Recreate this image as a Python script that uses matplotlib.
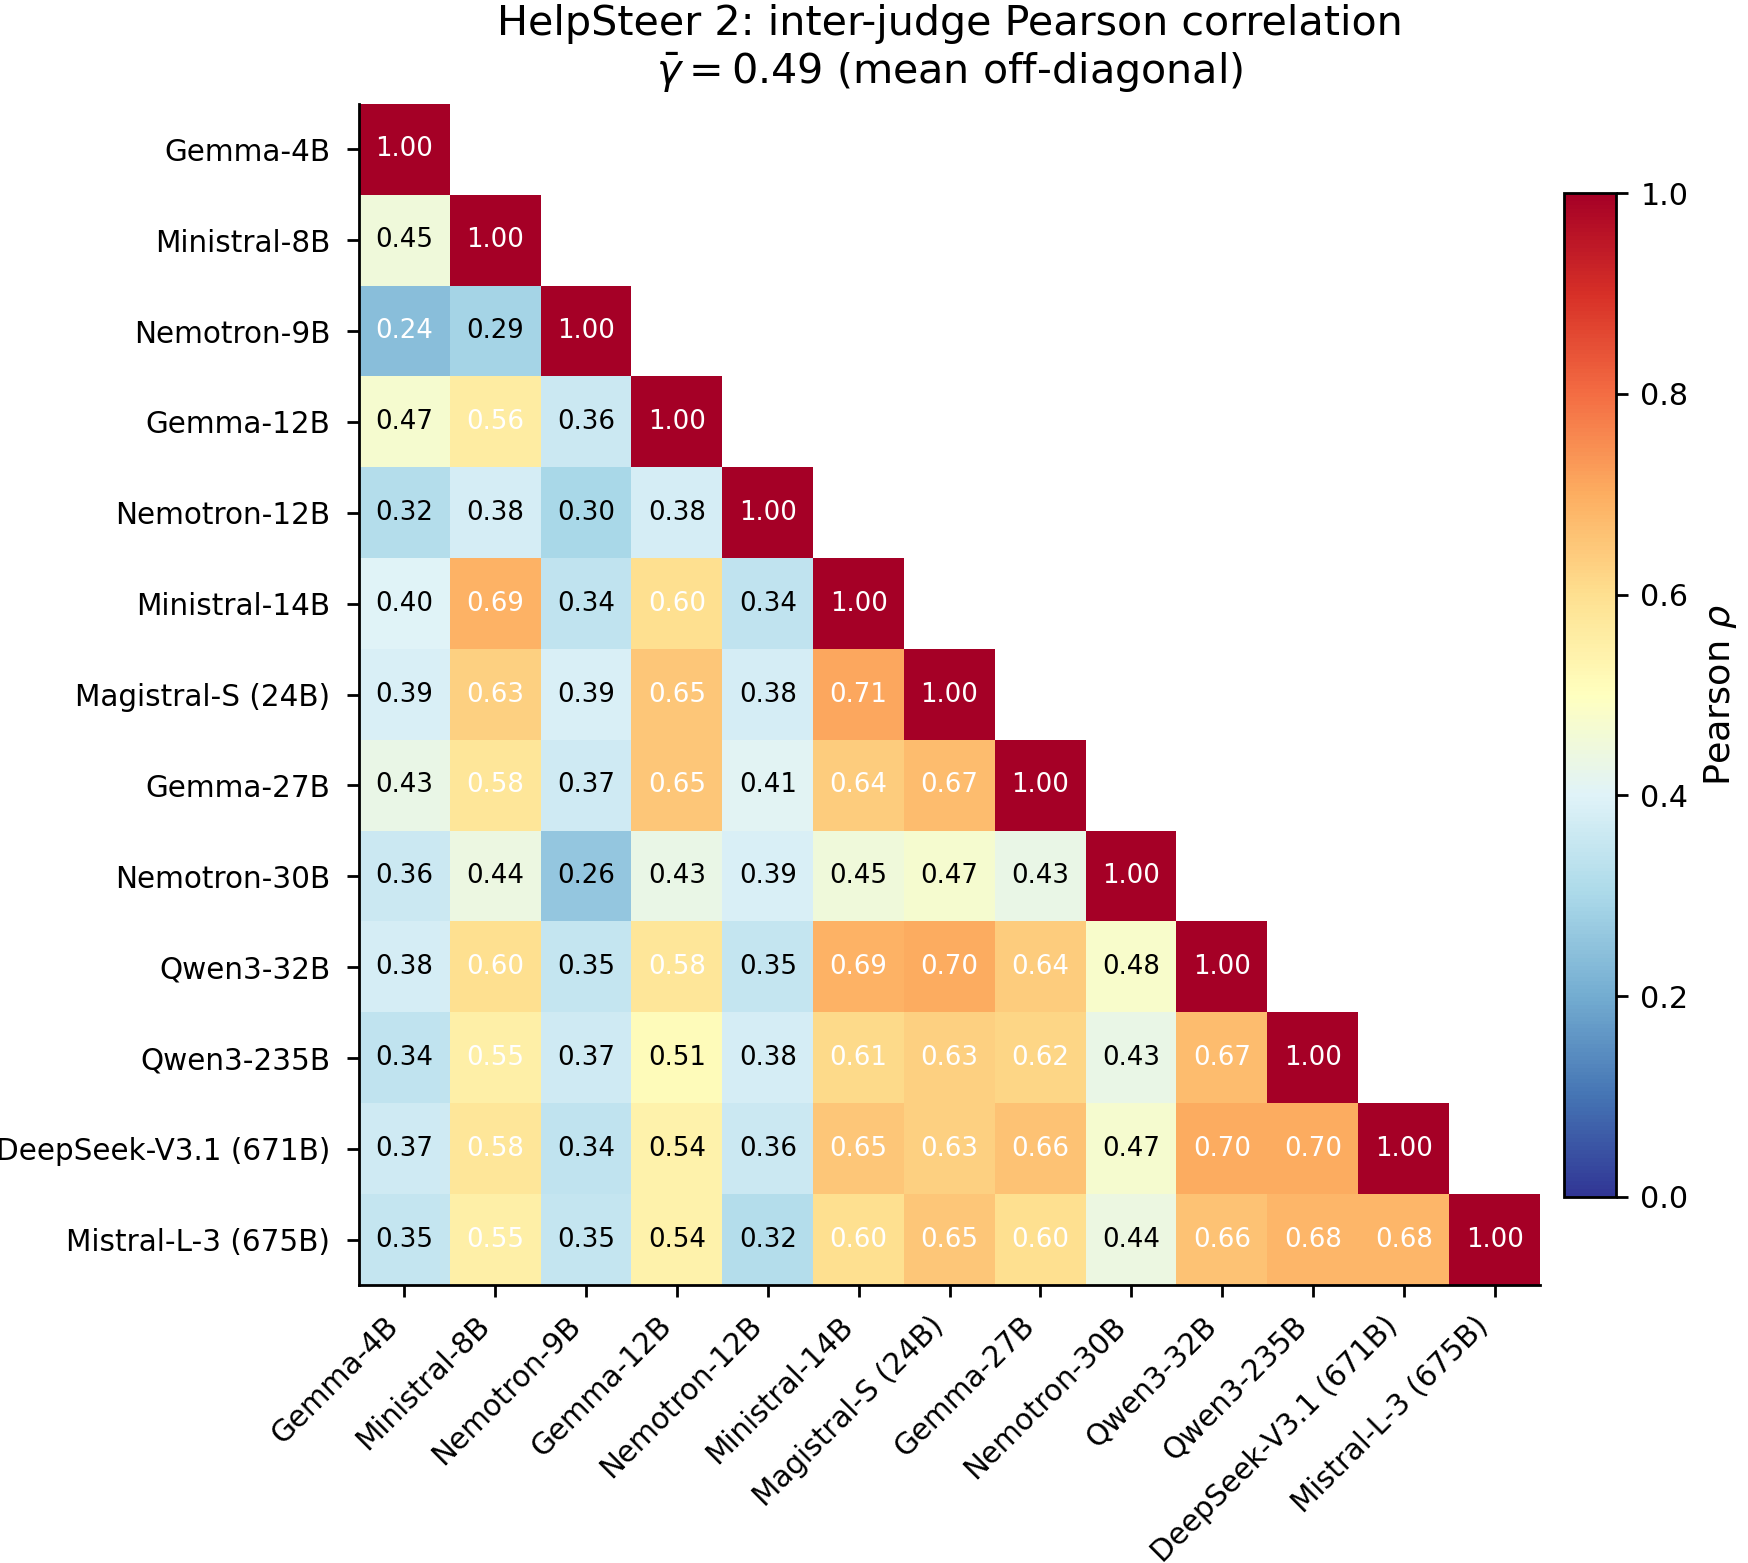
import numpy as np
import matplotlib
matplotlib.use("Agg")
import matplotlib.pyplot as plt

judges = ["Gemma-4B", "Ministral-8B", "Nemotron-9B", "Gemma-12B", "Nemotron-12B",
          "Ministral-14B", "Magistral-S (24B)", "Gemma-27B", "Nemotron-30B",
          "Qwen3-32B", "Qwen3-235B", "DeepSeek-V3.1 (671B)", "Mistral-L-3 (675B)"]

row_gemma4b = [1.00]
row_ministral8b = [0.45, 1.00]
row_nemotron9b = [0.24, 0.29, 1.00]
row_gemma12b = [0.47, 0.56, 0.36, 1.00]
row_nemotron12b = [0.32, 0.38, 0.30, 0.38, 1.00]
row_ministral14b = [0.40, 0.69, 0.34, 0.60, 0.34, 1.00]
row_magistral = [0.39, 0.63, 0.39, 0.65, 0.38, 0.71, 1.00]
row_gemma27b = [0.43, 0.58, 0.37, 0.65, 0.41, 0.64, 0.67, 1.00]
row_nemotron30b = [0.36, 0.44, 0.26, 0.43, 0.39, 0.45, 0.47, 0.43, 1.00]
row_qwen32b = [0.38, 0.60, 0.35, 0.58, 0.35, 0.69, 0.70, 0.64, 0.48, 1.00]
row_qwen235b = [0.34, 0.55, 0.37, 0.51, 0.38, 0.61, 0.63, 0.62, 0.43, 0.67, 1.00]
row_deepseek = [0.37, 0.58, 0.34, 0.54, 0.36, 0.65, 0.63, 0.66, 0.47, 0.70, 0.70, 1.00]
row_mistral_l3 = [0.35, 0.55, 0.35, 0.54, 0.32, 0.60, 0.65, 0.60, 0.44, 0.66, 0.68, 0.68, 1.00]

rows = [row_gemma4b, row_ministral8b, row_nemotron9b, row_gemma12b, row_nemotron12b,
        row_ministral14b, row_magistral, row_gemma27b, row_nemotron30b, row_qwen32b,
        row_qwen235b, row_deepseek, row_mistral_l3]

n = len(judges)
mat = np.full((n, n), np.nan)
for i, r in enumerate(rows):
    mat[i, :len(r)] = r
masked = np.ma.masked_invalid(mat)

fig = plt.figure(figsize=(1748 / 250, 1563 / 250), dpi=250)
ax = fig.add_axes([359 / 1748, 1 - 1285 / 1563, 1181 / 1748, 1181 / 1563])
cax = fig.add_axes([1564 / 1748, 1 - 1197 / 1563, 52 / 1748, 1004 / 1563])

im = ax.imshow(masked, cmap="RdYlBu_r", vmin=0, vmax=1, aspect="auto")

for i in range(n):
    for j in range(n):
        v = mat[i, j]
        if np.isnan(v):
            continue
        color = "white" if (v > 0.545 or v < 0.25) else "black"
        ax.text(j, i, f"{v:.2f}", ha="center", va="center", color=color, fontsize=7.5)

ax.set_xticks(range(n))
ax.set_yticks(range(n))
ax.set_xticklabels(judges, rotation=45, ha="right", fontsize=8.5)
ax.set_yticklabels(judges, fontsize=8.5)
ax.tick_params(axis="y", pad=4.8)
ax.tick_params(axis="x", pad=4.0)
ax.spines["top"].set_visible(False)
ax.spines["right"].set_visible(False)
ax.set_xlim(-0.5, n - 0.5)
ax.set_ylim(n - 0.5, -0.5)

ax.set_title("HelpSteer 2: inter-judge Pearson correlation\n"
             r"$\bar{\gamma} = 0.49$ (mean off-diagonal)", fontsize=11.9, pad=6)

cb = fig.colorbar(im, cax=cax)
cb.set_label(r"Pearson $\rho$", fontsize=10.5)
cb.ax.tick_params(labelsize=8.7)
cb.set_ticks([0.0, 0.2, 0.4, 0.6, 0.8, 1.0])

fig.savefig("out.png", dpi=250)
